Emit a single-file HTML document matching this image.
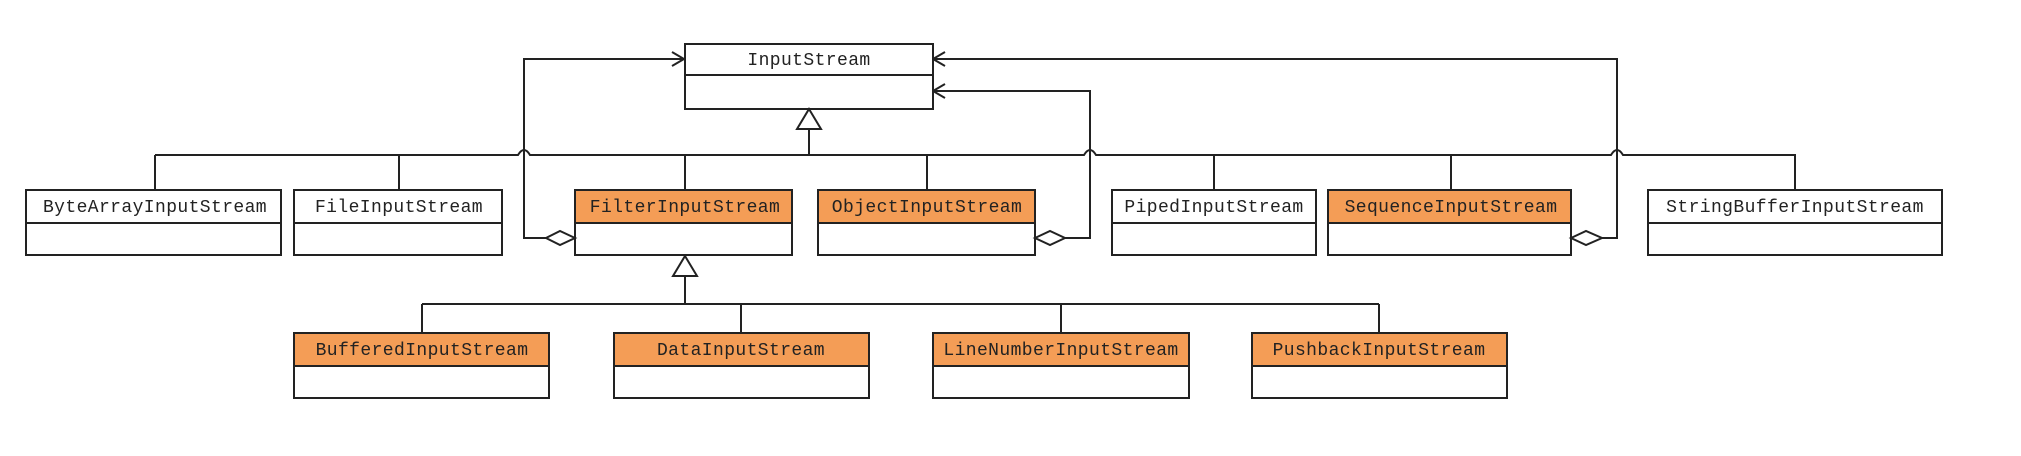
<!DOCTYPE html>
<html><head><meta charset="utf-8"><style>
html,body{margin:0;padding:0;background:#fff;}
svg{display:block;}
text{font-family:"Liberation Mono",monospace;font-size:18px;fill:#222;text-anchor:middle;letter-spacing:0.4px;}
</style></head><body>
<svg width="2021" height="456" viewBox="0 0 2021 456" xmlns="http://www.w3.org/2000/svg">
<g stroke="#222" stroke-width="2" fill="none">
<!-- bus 1 with hops -->
<path d="M155 155 H518 q6 -10 12 0 H1084 q6 -10 12 0 H1611 q6 -10 12 0 H1795 V190"/>
<path d="M155 155 V190 M399 155 V190 M685 155 V190 M927 155 V190 M1214 155 V190 M1451 155 V190"/>
<path d="M809 129 V155"/>
<!-- bus 2 -->
<path d="M422 304 H1379 M422 304 V333 M741 304 V333 M1061 304 V333 M1379 304 V333 M685 276 V304"/>
<!-- association lines -->
<path d="M546 238 H524 V59 H684"/>
<path d="M672 52 L684 59 L672 66"/>
<path d="M1065 238 H1090 V91 H933"/>
<path d="M945 84 L933 91 L945 98"/>
<path d="M1602 238 H1617 V59 H933"/>
<path d="M945 52 L933 59 L945 66"/>
</g>
<!-- boxes -->
<g stroke="#222" stroke-width="2">
<rect x="685" y="44" width="248" height="65" fill="#fff"/>
<line x1="685" y1="75" x2="933" y2="75"/>
<g fill="#fff">
<rect x="26" y="190" width="255" height="65"/>
<rect x="294" y="190" width="208" height="65"/>
<rect x="575" y="190" width="217" height="65"/>
<rect x="818" y="190" width="217" height="65"/>
<rect x="1112" y="190" width="204" height="65"/>
<rect x="1328" y="190" width="243" height="65"/>
<rect x="1648" y="190" width="294" height="65"/>
<rect x="294" y="333" width="255" height="65"/>
<rect x="614" y="333" width="255" height="65"/>
<rect x="933" y="333" width="256" height="65"/>
<rect x="1252" y="333" width="255" height="65"/>
</g>
<g fill="#F49D56">
<rect x="575" y="190" width="217" height="33"/>
<rect x="818" y="190" width="217" height="33"/>
<rect x="1328" y="190" width="243" height="33"/>
<rect x="294" y="333" width="255" height="33"/>
<rect x="614" y="333" width="255" height="33"/>
<rect x="933" y="333" width="256" height="33"/>
<rect x="1252" y="333" width="255" height="33"/>
</g>
<path d="M26 223H281 M294 223H502 M1112 223H1316 M1648 223H1942" fill="none"/>
<!-- triangles -->
<path d="M809 109 L821 129 L797 129 Z" fill="#fff"/>
<path d="M685 256 L697 276 L673 276 Z" fill="#fff"/>
<!-- diamonds -->
<path d="M575 238 L560 231 L546 238 L560 245 Z" fill="#fff"/>
<path d="M1035 238 L1050 231 L1065 238 L1050 245 Z" fill="#fff"/>
<path d="M1571 238 L1586 231 L1602 238 L1586 245 Z" fill="#fff"/>
</g>
<g>
<text x="809" y="65">InputStream</text>
<text x="155" y="212">ByteArrayInputStream</text>
<text x="399" y="212">FileInputStream</text>
<text x="685" y="212">FilterInputStream</text>
<text x="927" y="212">ObjectInputStream</text>
<text x="1214" y="212">PipedInputStream</text>
<text x="1451" y="212">SequenceInputStream</text>
<text x="1795" y="212">StringBufferInputStream</text>
<text x="422" y="355">BufferedInputStream</text>
<text x="741" y="355">DataInputStream</text>
<text x="1061" y="355">LineNumberInputStream</text>
<text x="1379" y="355">PushbackInputStream</text>
</g>
</svg>
</body></html>
